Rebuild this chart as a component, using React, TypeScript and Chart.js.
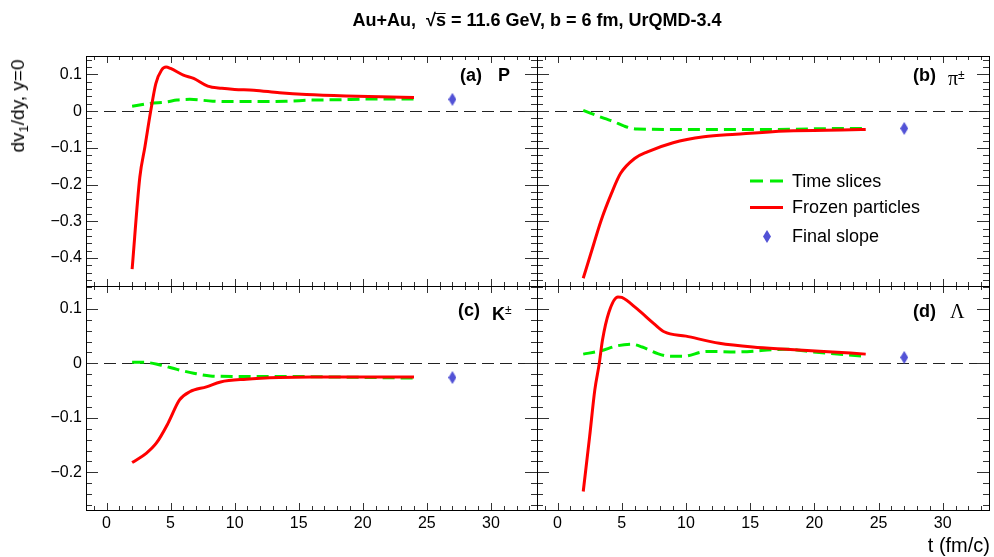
import { useEffect, useRef } from "react";
import { Chart, registerables } from "chart.js";

Chart.register(...registerables);

const FONT = '"Liberation Sans", Arial, Helvetica, sans-serif';
const SERIF = '"Liberation Serif", "Times New Roman", serif';

// ---------- data ----------
const X_MIN = -1.6;
const X_MAX = 33.6;
const FINAL_T = 27;

// (a) protons
const frozenT_P = [2, 2.6, 3, 3.45, 3.85, 4.3, 4.65, 5, 6, 6.8, 7.9, 9, 10, 11.5, 13.5, 15.6, 18.7, 21.4, 24];
const frozenV_P = [-0.43, -0.18, -0.097, 0, 0.075, 0.112, 0.12, 0.116, 0.098, 0.089, 0.068, 0.062, 0.059, 0.057, 0.05, 0.045, 0.041, 0.039, 0.037];
const sliceT_P = [2, 3.4, 4.7, 5.5, 6.5, 8.3, 10, 12.2, 14, 16.1, 18, 20.8, 24];
const sliceV_P = [0.013, 0.021, 0.025, 0.03, 0.032, 0.027, 0.026, 0.026, 0.027, 0.03, 0.031, 0.033, 0.033];
const finalV_P = 0.032;

// (b) pions
const frozenT_Pi = [2, 2.6, 3.4, 4.2, 4.9, 6, 7, 9, 11.4, 13.9, 17.8, 22.9, 24];
const frozenV_Pi = [-0.455, -0.387, -0.297, -0.224, -0.17, -0.129, -0.111, -0.086, -0.07, -0.063, -0.054, -0.051, -0.05];
const sliceT_Pi = [2, 3.65, 4.4, 5.2, 6.2, 10, 16.5, 22.9, 24];
const sliceV_Pi = [0.002, -0.02, -0.029, -0.041, -0.049, -0.05, -0.05, -0.047, -0.047];
const finalV_Pi = -0.047;

// (c) kaons
const frozenT_K = [2, 3.1, 3.9, 4.8, 5.7, 6.5, 7.8, 8.9, 10.9, 13.5, 16, 20, 24];
const frozenV_K = [-0.182, -0.165, -0.146, -0.11, -0.067, -0.052, -0.043, -0.034, -0.029, -0.026, -0.025, -0.025, -0.025];
const sliceT_K = [2, 2.9, 4.2, 5.5, 6.8, 8.1, 10, 14, 18, 21, 24];
const sliceV_K = [0.002, 0.002, -0.003, -0.011, -0.018, -0.023, -0.024, -0.024, -0.025, -0.026, -0.027];
const finalV_K = -0.026;

// (d) lambdas
const frozenT_L = [2, 2.5, 2.9, 3.25, 3.5, 4, 4.7, 5, 6.2, 7.5, 8.3, 10, 12.6, 15.2, 17.8, 20.4, 24];
const frozenV_L = [-0.235, -0.134, -0.049, 0, 0.043, 0.094, 0.122, 0.121, 0.1, 0.073, 0.058, 0.05, 0.037, 0.03, 0.026, 0.0225, 0.017];
const sliceT_L = [2, 3.35, 4.6, 5.8, 6.6, 7.8, 8.8, 9.8, 11.6, 13.9, 17.8, 19.9, 24];
const sliceV_L = [0.017, 0.023, 0.032, 0.035, 0.03, 0.018, 0.013, 0.013, 0.022, 0.021, 0.026, 0.021, 0.013];
const finalV_L = 0.011;

const legendLabels = ["Time slices", "Frozen particles", "Final slope"];

// ---------- styles ----------
const GREEN = "#00ee00";
const RED = "#ff0000";
const BLUE = "#5252d6";

type Area = { left: number; top: number; right: number; bottom: number };
type PanelDef = {
  frozenT: number[];
  frozenV: number[];
  sliceT: number[];
  sliceV: number[];
  finalV: number;
  yMin: number;
  yMax: number;
  showX: boolean;
  showY: boolean;
  legend: boolean;
  area: Area;
};

const TOP_Y = { min: -0.476, max: 0.15 };
const BOT_Y = { min: -0.269, max: 0.142 };

const panels: PanelDef[] = [
  { frozenT: frozenT_P, frozenV: frozenV_P, sliceT: sliceT_P, sliceV: sliceV_P, finalV: finalV_P, yMin: TOP_Y.min, yMax: TOP_Y.max, showX: false, showY: true, legend: false, area: { left: 86, top: 56, right: 537, bottom: 286 } },
  { frozenT: frozenT_Pi, frozenV: frozenV_Pi, sliceT: sliceT_Pi, sliceV: sliceV_Pi, finalV: finalV_Pi, yMin: TOP_Y.min, yMax: TOP_Y.max, showX: false, showY: false, legend: true, area: { left: 537, top: 56, right: 989, bottom: 286 } },
  { frozenT: frozenT_K, frozenV: frozenV_K, sliceT: sliceT_K, sliceV: sliceV_K, finalV: finalV_K, yMin: BOT_Y.min, yMax: BOT_Y.max, showX: true, showY: true, legend: false, area: { left: 86, top: 286, right: 537, bottom: 510 } },
  { frozenT: frozenT_L, frozenV: frozenV_L, sliceT: sliceT_L, sliceV: sliceV_L, finalV: finalV_L, yMin: BOT_Y.min, yMax: BOT_Y.max, showX: true, showY: false, legend: false, area: { left: 537, top: 286, right: 989, bottom: 510 } },
];

const W = 994;
const H = 557;

function makeDiamond(): HTMLCanvasElement {
  const c = document.createElement("canvas");
  c.width = 8;
  c.height = 13;
  const g = c.getContext("2d")!;
  g.fillStyle = BLUE;
  g.beginPath();
  g.moveTo(4, 0);
  g.lineTo(8, 6.5);
  g.lineTo(4, 13);
  g.lineTo(0, 6.5);
  g.closePath();
  g.fill();
  return c;
}

function fmtY(v: number): string {
  if (Math.abs(v) < 1e-9) return "0";
  return (v < 0 ? "\u2212" : "") + Math.abs(v).toFixed(1);
}

const framePlugin = {
  id: "rootFrame",
  beforeDatasetsDraw(chart: any) {
    const { ctx, chartArea: a, scales } = chart;
    const y0 = Math.round(scales.y.getPixelForValue(0)) + 0.5;
    ctx.save();
    ctx.strokeStyle = "#222";
    ctx.lineWidth = 1;
    ctx.setLineDash([12, 6]);
    ctx.beginPath();
    ctx.moveTo(a.left, y0);
    ctx.lineTo(a.right, y0);
    ctx.stroke();
    ctx.restore();
  },
  afterDatasetsDraw(chart: any) {
    const { ctx, chartArea: a, scales } = chart;
    const xs = scales.x;
    const ys = scales.y;
    ctx.save();
    ctx.lineWidth = 1;
    ctx.strokeStyle = "#333";
    ctx.beginPath();
    for (let v = Math.ceil(xs.min); v <= Math.floor(xs.max); v++) {
      const major = v % 5 === 0;
      const len = major ? 7 : 4;
      const px = Math.round(xs.getPixelForValue(v)) + 0.5;
      ctx.moveTo(px, a.bottom);
      ctx.lineTo(px, a.bottom - len);
      ctx.moveTo(px, a.top);
      ctx.lineTo(px, a.top + len);
    }
    const k0 = Math.ceil(ys.min / 0.02 - 1e-6);
    const k1 = Math.floor(ys.max / 0.02 + 1e-6);
    for (let k = k0; k <= k1; k++) {
      const major = k % 5 === 0;
      const len = major ? 12 : 6;
      const py = Math.round(ys.getPixelForValue(k * 0.02)) + 0.5;
      ctx.moveTo(a.left, py);
      ctx.lineTo(a.left + len, py);
      ctx.moveTo(a.right, py);
      ctx.lineTo(a.right - len, py);
    }
    ctx.stroke();
    ctx.strokeStyle = "#000";
    ctx.strokeRect(a.left + 0.5, a.top + 0.5, a.right - a.left, a.bottom - a.top);
    ctx.restore();
  },
};

const legendPlugin = {
  id: "rootLegend",
  afterDraw(chart: any, _args: any, opts: any) {
    if (!opts || !opts.show) return;
    const { ctx, chartArea: a } = chart;
    const ds = chart.data.datasets;
    const x0 = a.left + 213;
    const x1 = a.left + 246;
    const tx = a.left + 255;
    const rows = [a.top + 125, a.top + 151.5, a.top + 180];
    ctx.save();
    ctx.strokeStyle = ds[1].borderColor;
    ctx.lineWidth = ds[1].borderWidth;
    ctx.setLineDash([13, 7]);
    ctx.beginPath();
    ctx.moveTo(x0, rows[0]);
    ctx.lineTo(x1, rows[0]);
    ctx.stroke();
    ctx.setLineDash([]);
    ctx.strokeStyle = ds[0].borderColor;
    ctx.lineWidth = ds[0].borderWidth;
    ctx.beginPath();
    ctx.moveTo(x0, rows[1]);
    ctx.lineTo(x1, rows[1]);
    ctx.stroke();
    const img = ds[2].pointStyle as HTMLCanvasElement;
    ctx.drawImage(img, Math.round((x0 + x1) / 2 - img.width / 2), Math.round(rows[2] - img.height / 2));
    ctx.fillStyle = "#000";
    ctx.font = `18px ${FONT}`;
    ctx.textBaseline = "middle";
    ctx.textAlign = "left";
    legendLabels.forEach((t, i) => ctx.fillText(t, tx, rows[i] + 1));
    ctx.restore();
  },
};

function PanelChart({ p }: { p: PanelDef }) {
  const ref = useRef<HTMLCanvasElement>(null);
  useEffect(() => {
    const diamond = makeDiamond();
    const chart = new Chart(ref.current!, {
      type: "line",
      data: {
        datasets: [
          {
            label: legendLabels[1],
            data: p.frozenT.map((t, i) => ({ x: t, y: p.frozenV[i] })),
            borderColor: RED,
            borderWidth: 3,
            pointRadius: 0,
            cubicInterpolationMode: "monotone",
            fill: false,
            order: 0,
          },
          {
            label: legendLabels[0],
            data: p.sliceT.map((t, i) => ({ x: t, y: p.sliceV[i] })),
            borderColor: GREEN,
            borderWidth: 3,
            borderDash: [12, 6],
            pointRadius: 0,
            cubicInterpolationMode: "monotone",
            fill: false,
            order: 1,
          },
          {
            label: legendLabels[2],
            data: [{ x: FINAL_T, y: p.finalV }],
            showLine: false,
            pointStyle: diamond as any,
            pointRadius: 6,
            backgroundColor: BLUE,
            borderColor: BLUE,
            order: 0,
          },
        ],
      } as any,
      options: {
        animation: false,
        responsive: false,
        events: [],
        layout: {
          autoPadding: false,
          padding: {
            left: p.showY ? 0 : p.area.left,
            right: W - p.area.right,
            top: p.area.top,
            bottom: p.showX ? 0 : H - p.area.bottom,
          },
        },
        plugins: {
          legend: { display: false },
          tooltip: { enabled: false },
          rootLegend: { show: p.legend },
        } as any,
        scales: {
          x: {
            type: "linear",
            min: X_MIN,
            max: X_MAX,
            display: p.showX,
            grid: { display: false, drawTicks: false },
            border: { display: false },
            ticks: {
              stepSize: 5,
              includeBounds: false,
              autoSkip: false,
              maxRotation: 0,
              padding: 4,
              color: "#000",
              font: { family: FONT, size: 16 },
            },
            afterFit: (s: any) => {
              s.height = p.showX ? H - p.area.bottom : 0;
            },
          },
          y: {
            type: "linear",
            min: p.yMin,
            max: p.yMax,
            display: p.showY,
            grid: { display: false, drawTicks: false },
            border: { display: false },
            ticks: {
              stepSize: 0.1,
              includeBounds: false,
              autoSkip: false,
              padding: 4,
              color: "#000",
              font: { family: FONT, size: 16 },
              callback: (v: any) => fmtY(Number(v)),
            },
            afterFit: (s: any) => {
              s.width = p.showY ? p.area.left : 0;
            },
          },
        } as any,
      },
      plugins: [framePlugin, legendPlugin],
    });
    return () => chart.destroy();
  }, []);
  return (
    <canvas
      ref={ref}
      width={W}
      height={H}
      style={{ position: "absolute", left: 0, top: 0, width: W, height: H }}
    />
  );
}

const labelStyle = (left: number, top: number, extra: any = {}) => ({
  position: "absolute" as const,
  left,
  top,
  fontSize: 18,
  lineHeight: "18px",
  whiteSpace: "nowrap" as const,
  ...extra,
});

export default function App() {
  return (
    <div
      style={{
        position: "absolute",
        left: 0,
        top: 0,
        width: W,
        height: H,
        background: "#fff",
        fontFamily: FONT,
        color: "#000",
        overflow: "hidden",
      }}
    >
      {panels.map((p, i) => (
        <PanelChart key={i} p={p} />
      ))}

      <div
        style={{
          position: "absolute",
          left: 537,
          top: 10,
          transform: "translateX(-50%)",
          fontSize: 18,
          lineHeight: "20px",
          fontWeight: "bold",
          whiteSpace: "pre",
        }}
      >
        {"Au+Au,  \u221A"}
        <span style={{ position: "relative" }}>
          s
          <span
            style={{
              position: "absolute",
              left: -1,
              right: 0,
              top: 3,
              borderTop: "1.5px solid #000",
            }}
          />
        </span>
        {" = 11.6 GeV, b = 6 fm, UrQMD-3.4"}
      </div>

      <div
        style={{
          position: "absolute",
          left: 21,
          top: 106,
          transform: "translate(-50%, -50%) rotate(-90deg)",
          fontSize: 19,
          lineHeight: "22px",
          whiteSpace: "nowrap",
        }}
      >
        dv<sub style={{ fontSize: 13, verticalAlign: "-4px" }}>1</sub>/dy, y=0
      </div>

      <div
        style={{
          position: "absolute",
          right: 4,
          top: 534,
          fontSize: 20,
          lineHeight: "22px",
          whiteSpace: "nowrap",
        }}
      >
        t (fm/c)
      </div>

      <div style={labelStyle(460, 66, { fontWeight: "bold" })}>(a)</div>
      <div style={labelStyle(498, 66, { fontWeight: "bold" })}>P</div>

      <div style={labelStyle(913, 66, { fontWeight: "bold" })}>(b)</div>
      <div style={labelStyle(948, 66, { fontFamily: SERIF, fontSize: 20 })}>
        {"\u03C0"}
        <sup style={{ fontSize: 12, verticalAlign: "6px", fontFamily: FONT }}>{"\u00B1"}</sup>
      </div>

      <div style={labelStyle(458, 301, { fontWeight: "bold" })}>(c)</div>
      <div style={labelStyle(492, 301, { fontWeight: "bold" })}>
        K<sup style={{ fontSize: 12, verticalAlign: "6px", fontWeight: "normal" }}>{"\u00B1"}</sup>
      </div>

      <div style={labelStyle(913, 302, { fontWeight: "bold" })}>(d)</div>
      <div style={labelStyle(950, 302, { fontFamily: SERIF, fontSize: 20 })}>{"\u039B"}</div>
    </div>
  );
}
